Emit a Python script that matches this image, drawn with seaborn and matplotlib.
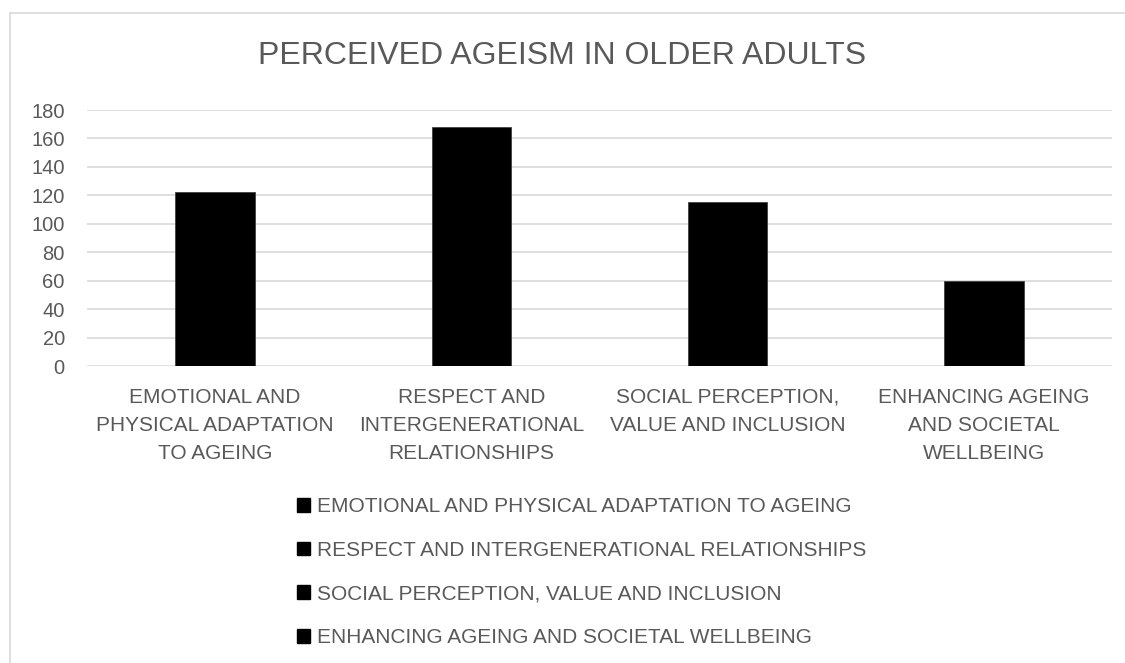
import matplotlib
matplotlib.use("Agg")
import matplotlib.pyplot as plt
import seaborn as sns
import pandas as pd
from matplotlib.patches import Patch
from matplotlib.lines import Line2D

title = "PERCEIVED AGEISM IN OLDER ADULTS"
categories = [
    "EMOTIONAL AND PHYSICAL ADAPTATION TO AGEING",
    "RESPECT AND INTERGENERATIONAL RELATIONSHIPS",
    "SOCIAL PERCEPTION, VALUE AND INCLUSION",
    "ENHANCING AGEING AND SOCIETAL WELLBEING",
]
tick_labels = [
    "EMOTIONAL AND\nPHYSICAL ADAPTATION\nTO AGEING",
    "RESPECT AND\nINTERGENERATIONAL\nRELATIONSHIPS",
    "SOCIAL PERCEPTION,\nVALUE AND INCLUSION",
    "ENHANCING AGEING\nAND SOCIETAL\nWELLBEING",
]
values = [122, 168, 115, 60]
yticks = [0, 20, 40, 60, 80, 100, 120, 140, 160, 180]

sns.set_theme(style="white")
plt.rcParams["font.family"] = ["Liberation Sans", "DejaVu Sans"]

W, H = 1125, 663
fig = plt.figure(figsize=(W / 100, H / 100), dpi=100)
ax = fig.add_axes([87 / W, 1 - 366 / H, (1112 - 87) / W, (366 - 110) / H])

df = pd.DataFrame({"category": categories, "value": values})
sns.barplot(data=df, x="category", y="value", hue="category",
            palette=["#000000"] * 4, width=0.31, legend=False, ax=ax,
            edgecolor="#404040", linewidth=0.6, zorder=3)

gray = "#595959"
fs = 15
ax.set_ylim(0, 180)
ax.set_yticks(yticks)
ax.set_xticks(range(len(categories)))
ax.set_xticklabels(tick_labels, linespacing=1.6)
ax.tick_params(axis="x", length=0, pad=15.5, labelsize=fs, labelcolor=gray)
ax.tick_params(axis="y", length=0, pad=16, labelsize=14.5, labelcolor=gray)
for lab in ax.get_yticklabels():
    lab.set_horizontalalignment("right")
ax.set_xlabel("")
ax.set_ylabel("")
ax.yaxis.grid(True, color="#d9d9d9", linewidth=1.2, zorder=0)
ax.set_axisbelow(True)
for s in ax.spines.values():
    s.set_visible(False)

fig.text(0.5, 1 - 56 / H, title, ha="center", va="center",
         fontsize=23, color=gray)

handles = [Patch(facecolor="#000000", edgecolor="#000000") for _ in categories]
leg = fig.legend(handles, categories, loc="upper left",
                 bbox_to_anchor=(289 / W, 1 - 489 / H), ncol=1, frameon=False,
                 fontsize=fs, labelcolor=gray, handlelength=0.63,
                 handleheight=0.63, handletextpad=0.3, labelspacing=1.18,
                 borderaxespad=0)

# outer chart frame (top and left edges visible)
fig.add_artist(Line2D([10 / W, 1.0], [1 - 13 / H, 1 - 13 / H],
                      transform=fig.transFigure, color="#d9d9d9", linewidth=1.2))
fig.add_artist(Line2D([10 / W, 10 / W], [0, 1 - 13 / H],
                      transform=fig.transFigure, color="#d9d9d9", linewidth=1.2))

fig.savefig("out.png", dpi=100, facecolor="white")
